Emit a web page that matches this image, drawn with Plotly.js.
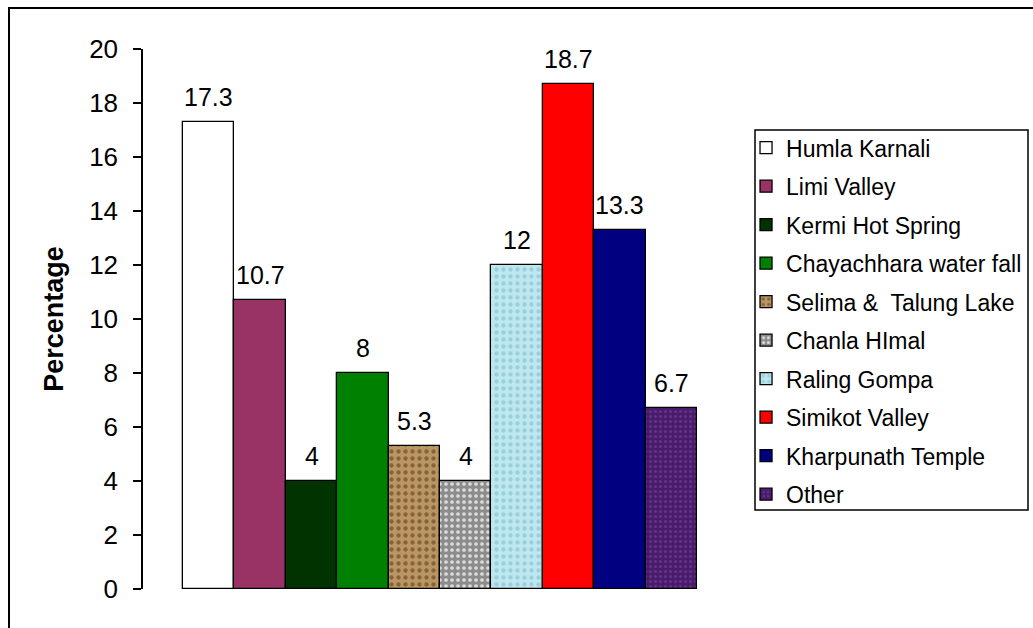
<!DOCTYPE html>
<html>
<head>
<meta charset="utf-8">
<script src="https://cdn.plot.ly/plotly-3.0.1.min.js"></script>
<style>html,body{margin:0;padding:0;background:#fff;}#chart{width:1033px;height:628px;}</style>
</head>
<body>
<div id="chart"></div>
<script>
var categories = ["Humla Karnali", "Limi Valley", "Kermi Hot Spring", "Chayachhara water fall",
  "Selima &  Talung Lake", "Chanla HImal", "Raling Gompa", "Simikot Valley", "Kharpunath Temple", "Other"];
var values = [17.3, 10.7, 4, 8, 5.3, 4, 12, 18.7, 13.3, 6.7];
var yTicks = [0, 2, 4, 6, 8, 10, 12, 14, 16, 18, 20];

var colors = ["#ffffff", "#993366", "#003300", "#008000", "#b38e5d", "#969696", "#bde6ee", "#ff0000", "#000080", "#4a1a6b"];
var patterns = [null, null, null, null,
  {shape: ".", bgcolor: "#b99662", fgcolor: "#86643a", size: 7, solidity: 0.3},
  {shape: ".", bgcolor: "#8c8c8c", fgcolor: "#dcdcdc", size: 6, solidity: 0.3},
  {shape: ".", bgcolor: "#bfe7ef", fgcolor: "#9ad0dc", size: 7, solidity: 0.3},
  null, null,
  {shape: ".", bgcolor: "#4a1a6b", fgcolor: "#62328a", size: 5, solidity: 0.3}];

var FONT = "Liberation Sans, Arial, sans-serif";

var traces = categories.map(function (c, i) {
  var marker = {color: colors[i], line: {color: "#000000", width: 1.3}};
  if (patterns[i]) { marker.pattern = patterns[i]; }
  return {
    type: "bar",
    name: c,
    x: [c],
    y: [values[i]],
    marker: marker,
    legendgroup: "g" + i,
    hoverinfo: "name+y"
  };
});

var annotations = categories.map(function (c, i) {
  return {
    x: c, y: values[i], xref: "x", yref: "y",
    text: String(values[i]), showarrow: false,
    yanchor: "bottom", yshift: 9,
    font: {family: FONT, size: 25, color: "#000"}
  };
});

var layout = {
  width: 1033, height: 628,
  margin: {l: 143, r: 296, t: 49, b: 39, autoexpand: false},
  paper_bgcolor: "#ffffff", plot_bgcolor: "#ffffff",
  barmode: "overlay", bargap: 0,
  showlegend: true,
  font: {family: FONT, color: "#000"},
  xaxis: {
    type: "category", categoryorder: "array", categoryarray: categories,
    range: [-1.278, 10.278], showticklabels: false, showline: false,
    zeroline: false, showgrid: false, ticks: "", fixedrange: true
  },
  yaxis: {
    range: [0, 20], tickvals: yTicks, ticktext: yTicks.map(String),
    showline: true, linecolor: "#000", linewidth: 1.5,
    ticks: "outside", ticklen: 8, tickwidth: 1.5, tickcolor: "#000",
    ticklabelstandoff: 10,
    showgrid: false, zeroline: false,
    tickfont: {family: FONT, size: 26, color: "#000"},
    title: {text: "<b>Percentage</b>", font: {family: FONT, size: 27, color: "#000"}, standoff: 18},
    fixedrange: true
  },
  legend: {
    x: 1.0152, xanchor: "left", y: 0.857, yanchor: "top",
    bgcolor: "rgba(0,0,0,0)", borderwidth: 0,
    traceorder: "grouped", tracegroupgap: 5.6,
    font: {family: FONT, size: 23, color: "#000"}
  },
  annotations: annotations,
  shapes: [
    {type: "rect", xref: "paper", yref: "paper", x0: 1.0303, x1: 1.4899, y0: 0.1463, y1: 0.85,
     line: {color: "#000", width: 1.5}, fillcolor: "rgba(0,0,0,0)"},
    {type: "rect", xref: "paper", yref: "paper", x0: -0.2256, x1: 1.7, y0: -0.3, y1: 1.0759,
     line: {color: "#000", width: 2}, fillcolor: "rgba(0,0,0,0)"}
  ]
};

Plotly.newPlot("chart", traces, layout, {displayModeBar: false, responsive: false});
</script>
</body>
</html>
